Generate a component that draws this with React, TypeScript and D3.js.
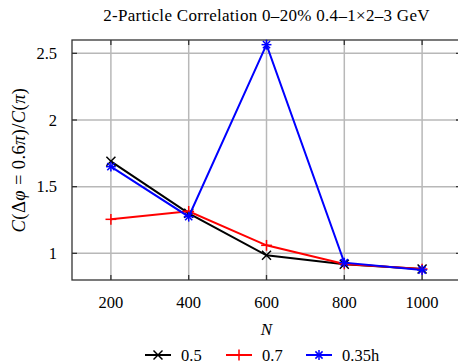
import React from "react";
import * as d3 from "d3";

// Multiplicity values on the x axis
const nValues = [200, 400, 600, 800, 1000];

// Correlation ratio for each setting
const series05 = [1.69, 1.3, 0.985, 0.918, 0.882];
const series07 = [1.255, 1.315, 1.06, 0.92, 0.882];
const series035h = [1.65, 1.275, 2.565, 0.93, 0.875];

const seriesNames = ["0.5", "0.7", "0.35h"];
const seriesColors = ["#000000", "#ff0000", "#0000ff"];
const seriesMarkers = ["x", "plus", "star"];

const xTicks = [200, 400, 600, 800, 1000];
const yTicks = [1, 1.5, 2, 2.5];

const W = 458;
const H = 363;
const margin = { left: 72, top: 40, right: 461, bottom: 280 };

const font = "'Liberation Serif', 'DejaVu Serif', serif";

function Marker({ kind, x, y, color }: { kind: string; x: number; y: number; color: string }) {
  const r = 4.5;
  const sw = 1.5;
  if (kind === "x") {
    return (
      <g stroke={color} strokeWidth={sw}>
        <line x1={x - r} y1={y - r} x2={x + r} y2={y + r} />
        <line x1={x - r} y1={y + r} x2={x + r} y2={y - r} />
      </g>
    );
  }
  if (kind === "plus") {
    const s = r * 1.2;
    return (
      <g stroke={color} strokeWidth={sw}>
        <line x1={x - s} y1={y} x2={x + s} y2={y} />
        <line x1={x} y1={y - s} x2={x} y2={y + s} />
      </g>
    );
  }
  const s = r * 1.1;
  const d = r * 0.8;
  return (
    <g stroke={color} strokeWidth={sw}>
      <line x1={x} y1={y - s} x2={x} y2={y + s} />
      <line x1={x - s} y1={y} x2={x + s} y2={y} />
      <line x1={x - d} y1={y - d} x2={x + d} y2={y + d} />
      <line x1={x - d} y1={y + d} x2={x + d} y2={y - d} />
    </g>
  );
}

export default function App() {
  const x = d3.scaleLinear().domain([100, 1100]).range([margin.left, margin.right]);
  const y = d3.scaleLinear().domain([0.8, 2.6]).range([margin.bottom, margin.top]);
  const line = d3
    .line<number>()
    .x((_, i) => x(nValues[i]))
    .y((v) => y(v));
  const allSeries = [series05, series07, series035h];
  const fmtY = (v: number) => (Number.isInteger(v) ? String(v) : v.toFixed(1));

  const legendX = [145, 226, 306];
  const legendY = 355;

  return (
    <svg
      width={W}
      height={H}
      style={{ position: "absolute", left: 0, top: 0, background: "#fff", fontFamily: font }}
    >
      <rect x={0} y={0} width={W} height={H} fill="#fff" />
      <text
        x={(margin.left + margin.right) / 2}
        y={21}
        textAnchor="middle"
        fontSize={17}
        fill="#000"
        style={{ fontFamily: font, letterSpacing: "0.3px" }}
      >
        2-Particle Correlation 0–20% 0.4–1×2–3 GeV
      </text>

      {/* grid */}
      <g stroke="#b8b8b8" strokeWidth={1.5}>
        {xTicks.map((t) => (
          <line key={"gx" + t} x1={x(t)} x2={x(t)} y1={margin.top} y2={margin.bottom} />
        ))}
        {yTicks.map((t) => (
          <line key={"gy" + t} x1={margin.left} x2={margin.right} y1={y(t)} y2={y(t)} />
        ))}
      </g>

      {/* frame and inward ticks */}
      <rect
        x={margin.left}
        y={margin.top}
        width={margin.right - margin.left}
        height={margin.bottom - margin.top}
        fill="none"
        stroke="#333"
        strokeWidth={1.3}
      />
      <g stroke="#333" strokeWidth={1.3}>
        {xTicks.map((t) => (
          <g key={"tx" + t}>
            <line x1={x(t)} x2={x(t)} y1={margin.top} y2={margin.top + 5} />
            <line x1={x(t)} x2={x(t)} y1={margin.bottom} y2={margin.bottom - 5} />
          </g>
        ))}
        {yTicks.map((t) => (
          <g key={"ty" + t}>
            <line x1={margin.left} x2={margin.left + 5} y1={y(t)} y2={y(t)} />
            <line x1={margin.right} x2={margin.right - 5} y1={y(t)} y2={y(t)} />
          </g>
        ))}
      </g>

      {/* tick labels */}
      {xTicks.map((t) => (
        <text key={"lx" + t} x={x(t)} y={308} textAnchor="middle" fontSize={16.5} fill="#000" style={{ fontFamily: font }}>
          {t}
        </text>
      ))}
      {yTicks.map((t) => (
        <text key={"ly" + t} x={57} y={y(t) + 5.5} textAnchor="end" fontSize={16.5} fill="#000" style={{ fontFamily: font }}>
          {fmtY(t)}
        </text>
      ))}

      {/* axis titles */}
      <text
        x={(margin.left + margin.right) / 2}
        y={335}
        textAnchor="middle"
        fontSize={17}
        fontStyle="italic"
        style={{ fontFamily: font }}
      >
        N
      </text>
      <text
        transform={`translate(25,${(margin.top + margin.bottom) / 2}) rotate(-90)`}
        textAnchor="middle"
        fontSize={18.5}
        style={{ fontFamily: font, letterSpacing: "0.4px" }}
      >
        <tspan fontStyle="italic">C</tspan>
        <tspan>(Δ</tspan>
        <tspan fontStyle="italic">φ</tspan>
        <tspan> = 0.6</tspan>
        <tspan fontStyle="italic">π</tspan>
        <tspan>)/</tspan>
        <tspan fontStyle="italic">C</tspan>
        <tspan>(</tspan>
        <tspan fontStyle="italic">π</tspan>
        <tspan>)</tspan>
      </text>

      {/* series */}
      {allSeries.map((s, si) => (
        <g key={"s" + si}>
          <path d={line(s) || ""} fill="none" stroke={seriesColors[si]} strokeWidth={2} />
          {s.map((v, i) => (
            <Marker key={i} kind={seriesMarkers[si]} x={x(nValues[i])} y={y(v)} color={seriesColors[si]} />
          ))}
        </g>
      ))}

      {/* legend */}
      {seriesNames.map((name, i) => (
        <g key={"lg" + i}>
          <line x1={legendX[i]} x2={legendX[i] + 26} y1={legendY} y2={legendY} stroke={seriesColors[i]} strokeWidth={2} />
          <Marker kind={seriesMarkers[i]} x={legendX[i] + 13} y={legendY} color={seriesColors[i]} />
          <text x={legendX[i] + 36} y={legendY + 5.5} fontSize={16.5} fill="#000" style={{ fontFamily: font }}>
            {name}
          </text>
        </g>
      ))}
    </svg>
  );
}
